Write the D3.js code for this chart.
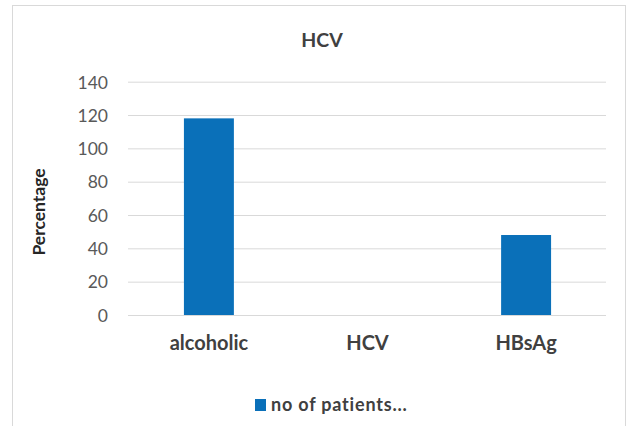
<!DOCTYPE html>
<html><head><meta charset="utf-8">
<script src="https://cdn.jsdelivr.net/npm/d3@7"></script>
<style>body{margin:0;background:#fff}svg{display:block}text{font-family:Lato,"Open Sans",sans-serif}</style>
</head><body>
<svg id="c" width="630" height="426"></svg>
<script>
const categories = ["alcoholic", "HCV", "HBsAg"];
const values = [118, 0, 48];
const yTicks = [0, 20, 40, 60, 80, 100, 120, 140];
const seriesName = "no of patients...";
const chartTitle = "HCV";
const yTitle = "Percentage";

const svg = d3.select("#c");
// outer chart border
svg.append("rect").attr("x", 12.5).attr("y", 5.5).attr("width", 613).attr("height", 430)
  .attr("fill", "#fff").attr("stroke", "#d9d9d9");

const m = {l: 130, r: 605, t: 81.7, b: 315};
const x = d3.scaleBand().domain(categories).range([m.l, m.r]).paddingInner(0.685).paddingOuter(0.34);
const y = d3.scaleLinear().domain([0, 140]).range([m.b, m.t]);

// gridlines
const yAxis = d3.axisLeft(y).tickValues(yTicks).tickSize(-(m.r - m.l + 3)).tickPadding(20);
const gy = svg.append("g").attr("transform", `translate(${m.l - 2},0)`).call(yAxis);
gy.select(".domain").remove();
gy.selectAll(".tick line").attr("stroke", "#d9d9d9").attr("stroke-width", 1);
gy.selectAll(".tick text").attr("fill", "#595959").attr("font-size", 17.5).attr("dy", "0.36em")
  .attr("font-family", "Lato,sans-serif");

// bars
svg.append("g").selectAll("rect").data(values).join("rect")
  .attr("x", (d, i) => x(categories[i]))
  .attr("y", d => y(d))
  .attr("width", x.bandwidth())
  .attr("height", d => y(0) - y(d))
  .attr("fill", "#0a70b9");

// x axis labels
const xAxis = d3.axisBottom(x).tickSize(0).tickPadding(0);
const gx = svg.append("g").attr("transform", `translate(0,${m.b})`).call(xAxis);
gx.select(".domain").remove();
gx.selectAll(".tick text").attr("y", 35).attr("dy", null).attr("fill", "#404040")
  .attr("font-size", 20).attr("font-weight", "bold").attr("font-family", "Lato,sans-serif");

// title
svg.append("text").attr("x", 322).attr("y", 47).attr("text-anchor", "middle")
  .attr("font-size", 19.5).attr("font-weight", "bold").attr("fill", "#404040").text(chartTitle);

// y title
svg.append("text").attr("transform", "translate(45,212) rotate(-90)").attr("text-anchor", "middle")
  .attr("font-size", 17.5).attr("font-weight", "bold").attr("fill", "#262626").text(yTitle);

// legend
svg.append("rect").attr("x", 255).attr("y", 399).attr("width", 11).attr("height", 12).attr("fill", "#0a70b9");
svg.append("text").attr("x", 271).attr("y", 411).attr("font-size", 18).attr("font-weight", "bold")
  .attr("letter-spacing", 0.8).attr("fill", "#404040").text(seriesName);
</script>
</body></html>
